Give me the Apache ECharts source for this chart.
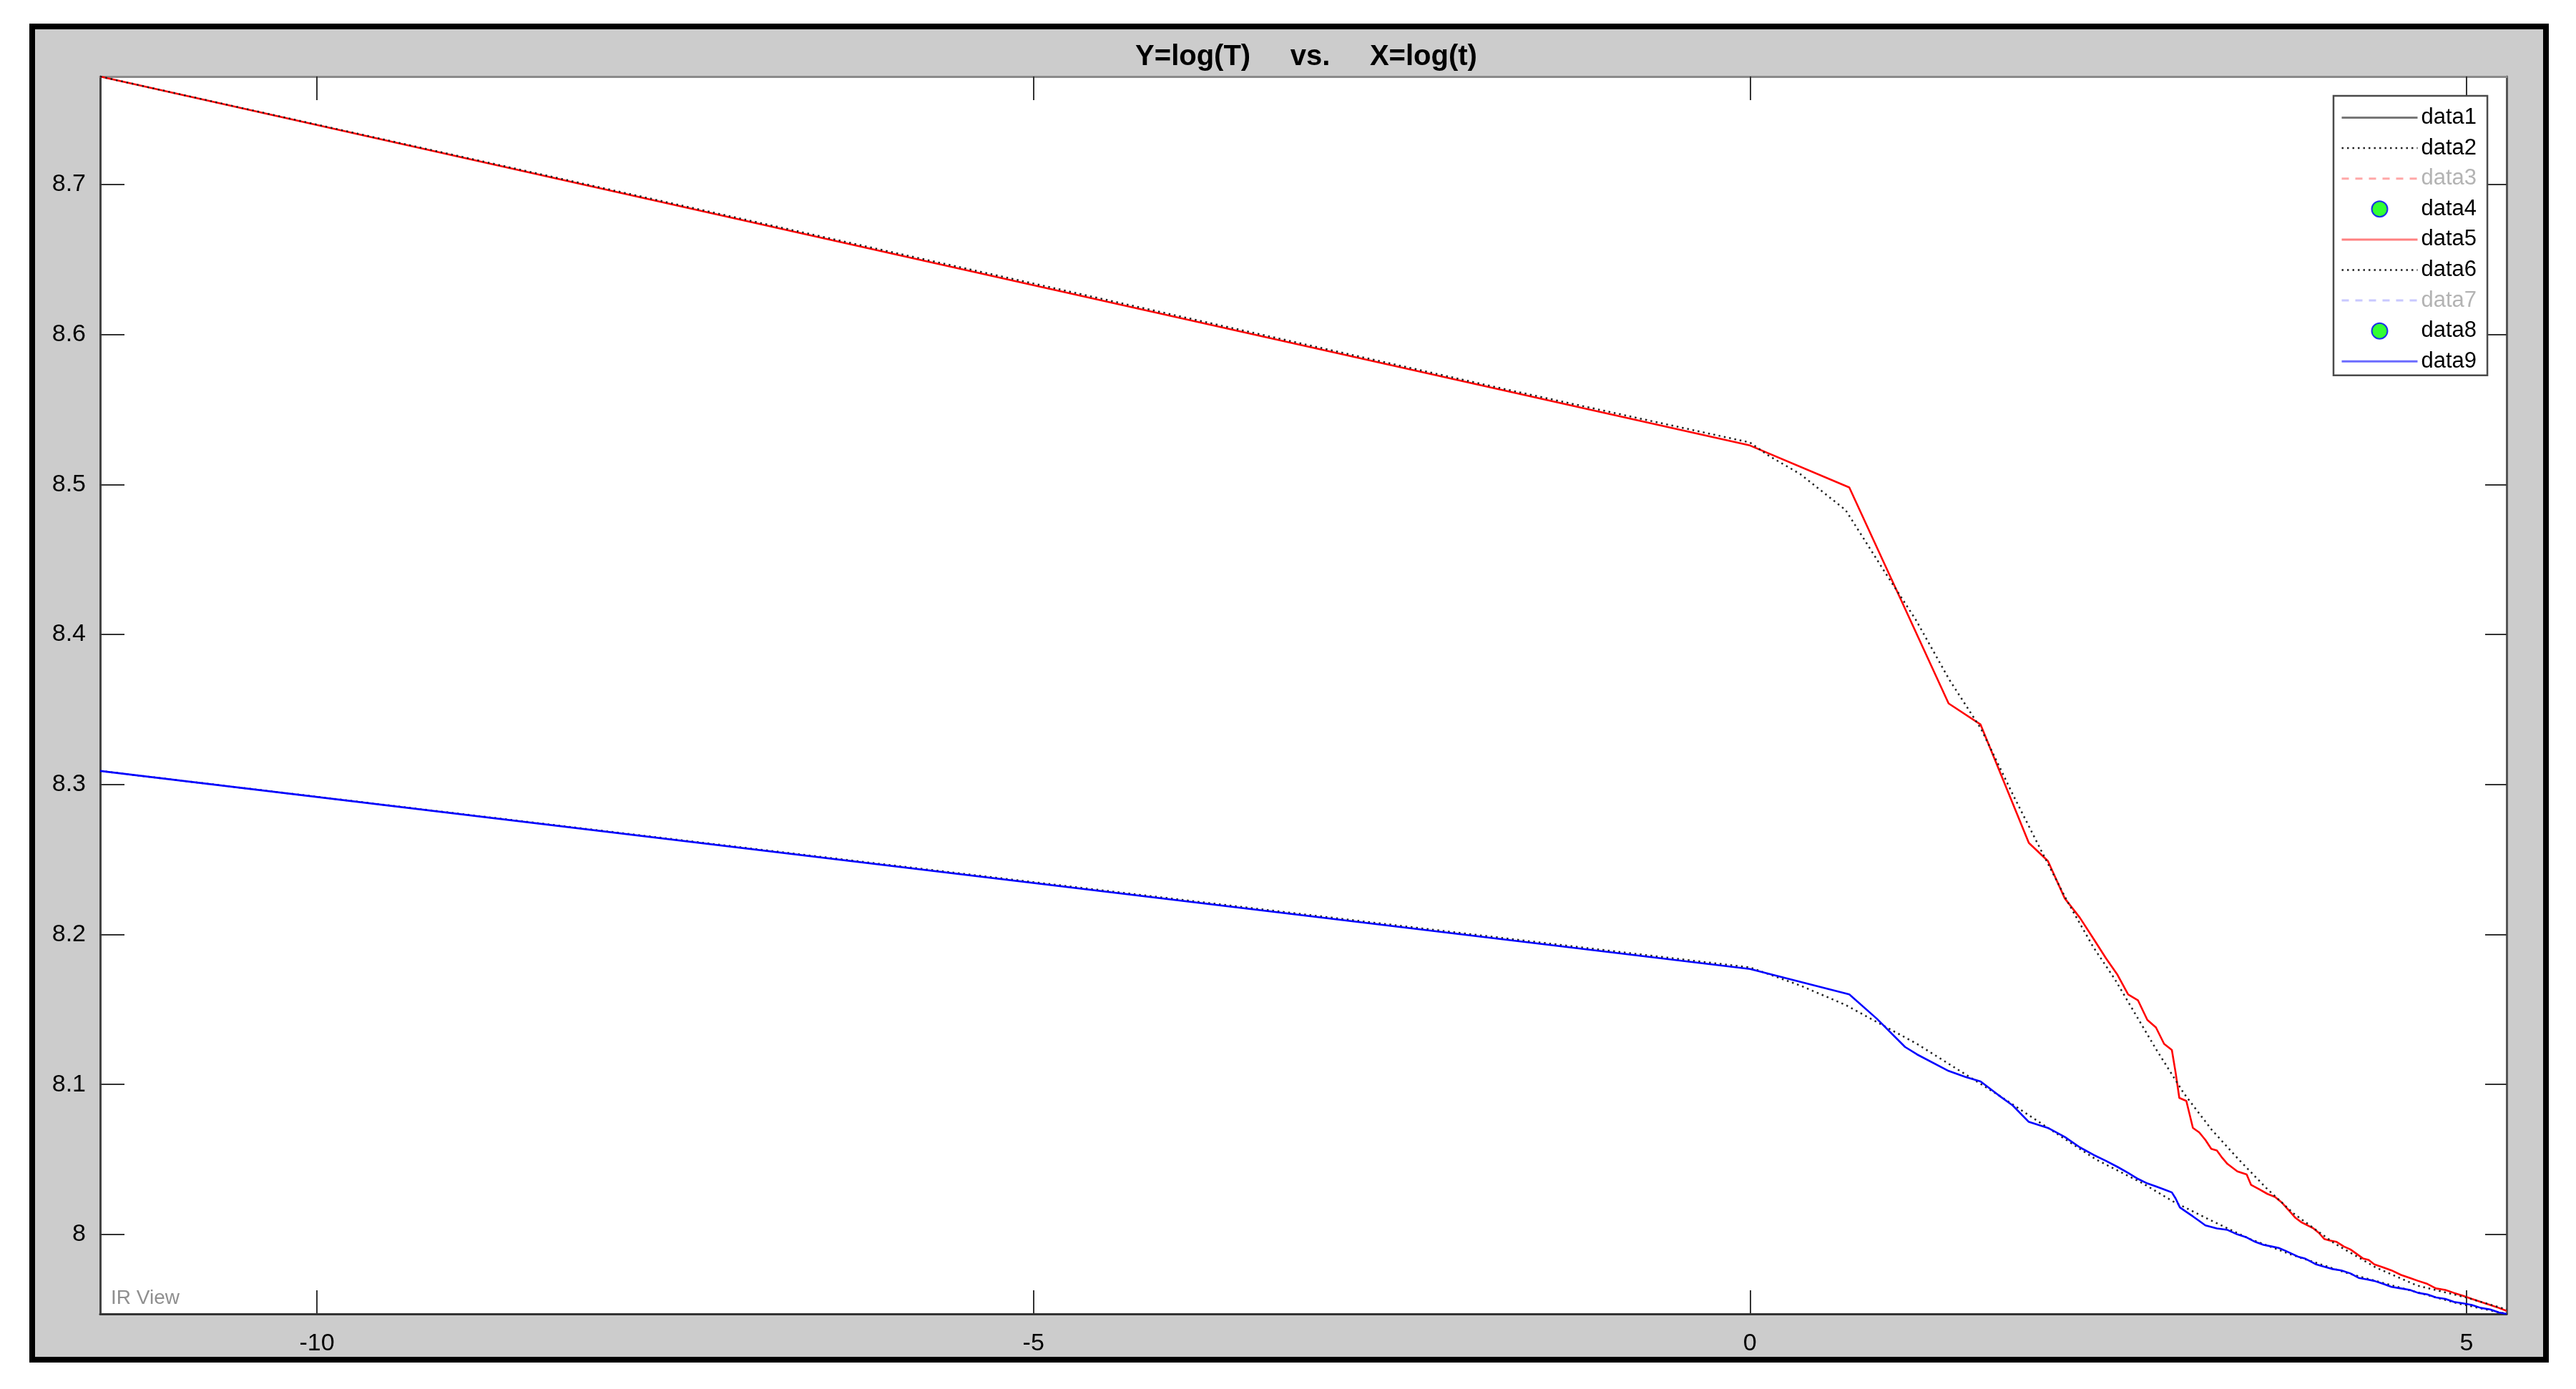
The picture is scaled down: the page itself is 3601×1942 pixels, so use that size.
<!DOCTYPE html>
<html>
<head>
<meta charset="utf-8">
<script src="https://cdn.jsdelivr.net/npm/echarts@6/dist/echarts.min.js"></script>
<style>
  html, body { margin: 0; padding: 0; background: #ffffff; }
  #chart { width: 3601px; height: 1942px; }
</style>
</head>
<body>
<div id="chart"></div>
<script>
// ---- axis ranges and tick labels ----
const X_MIN = -11.513;
const X_MAX = 5.28;
const Y_MIN = 7.947;
const Y_MAX = 8.772;
const xTicks = [-10, -5, 0, 5];
const yTicks = [8, 8.1, 8.2, 8.3, 8.4, 8.5, 8.6, 8.7];

const titleText = 'Y=log(T)     vs.     X=log(t)';
const legendNames = ['data1', 'data2', 'data3', 'data4', 'data5', 'data6', 'data7', 'data8', 'data9'];
const inactiveNames = ['data3', 'data7'];
const markerNames = ['data4', 'data8'];

// ---- series data: [x = log(t), y = log(T)] ----
const data1 = [];
const data3 = [];
const data4 = [];
const data7 = [];
const data8 = [];

// black dotted fit near the blue curve
const data2 = [
  [-11.513, 8.309], [0.0, 8.178], [0.35, 8.166], [0.667, 8.153], [0.916, 8.140],
  [1.166, 8.127], [1.499, 8.107], [1.749, 8.092], [2.048, 8.073], [2.414, 8.050],
  [2.742, 8.034], [2.952, 8.022], [3.181, 8.011], [3.487, 7.997], [3.793, 7.986],
  [4.175, 7.974], [4.557, 7.964], [4.939, 7.954], [5.280, 7.947]
];

// red measured curve
const data5 = [
  [-11.513, 8.772], [0.0, 8.526], [0.693, 8.498], [1.112, 8.411], [1.386, 8.354],
  [1.609, 8.340], [1.946, 8.261], [2.079, 8.249], [2.197, 8.224], [2.303, 8.211],
  [2.398, 8.197], [2.485, 8.184], [2.565, 8.173], [2.639, 8.160], [2.708, 8.156],
  [2.773, 8.143], [2.833, 8.138], [2.890, 8.127], [2.944, 8.123], [2.970, 8.108],
  [2.996, 8.091], [3.045, 8.089], [3.091, 8.071], [3.135, 8.068], [3.178, 8.063],
  [3.219, 8.057], [3.258, 8.056], [3.296, 8.051], [3.332, 8.047], [3.401, 8.042],
  [3.466, 8.040], [3.497, 8.033], [3.555, 8.030], [3.611, 8.027], [3.664, 8.025],
  [3.714, 8.021], [3.761, 8.016], [3.807, 8.011], [3.850, 8.008], [3.892, 8.006],
  [3.932, 8.004], [3.970, 8.001], [4.007, 7.997], [4.043, 7.996], [4.094, 7.995],
  [4.143, 7.992], [4.190, 7.990], [4.234, 7.987], [4.277, 7.984], [4.317, 7.983],
  [4.357, 7.980], [4.419, 7.978], [4.477, 7.976], [4.543, 7.973], [4.605, 7.971],
  [4.663, 7.969], [4.727, 7.967], [4.787, 7.964], [4.852, 7.963], [4.913, 7.961],
  [4.977, 7.959], [5.037, 7.957], [5.100, 7.955], [5.165, 7.953], [5.226, 7.951],
  [5.280, 7.949]
];

// black dotted fit near the red curve
const data6 = [
  [-11.513, 8.772], [-5.0, 8.634], [-1.73, 8.564], [-0.865, 8.546], [0.0, 8.528],
  [0.134, 8.519], [0.350, 8.507], [0.667, 8.483], [0.945, 8.441], [1.156, 8.410],
  [1.390, 8.370], [1.613, 8.337], [1.836, 8.293], [2.037, 8.255], [2.215, 8.222],
  [2.393, 8.192], [2.547, 8.170], [2.664, 8.151], [2.837, 8.123], [3.028, 8.094],
  [3.220, 8.070], [3.410, 8.050], [3.602, 8.031], [3.793, 8.014], [4.079, 7.994],
  [4.366, 7.978], [4.652, 7.966], [4.996, 7.958], [5.280, 7.950]
];

// blue measured curve
const data9 = [
  [-11.513, 8.309], [0.0, 8.177], [0.693, 8.160], [0.883, 8.144], [1.082, 8.125],
  [1.166, 8.120], [1.386, 8.109], [1.504, 8.105], [1.609, 8.102], [1.732, 8.093],
  [1.833, 8.086], [1.946, 8.075], [2.079, 8.071], [2.197, 8.065], [2.303, 8.058],
  [2.398, 8.053], [2.485, 8.049], [2.565, 8.045], [2.639, 8.041], [2.708, 8.037],
  [2.773, 8.034], [2.833, 8.032], [2.890, 8.030], [2.944, 8.028], [2.970, 8.024],
  [3.000, 8.018], [3.045, 8.015], [3.091, 8.012], [3.135, 8.009], [3.178, 8.006],
  [3.258, 8.004], [3.332, 8.003], [3.401, 8.000], [3.466, 7.998], [3.526, 7.995],
  [3.584, 7.993], [3.638, 7.992], [3.689, 7.991], [3.738, 7.989], [3.784, 7.987],
  [3.829, 7.985], [3.871, 7.984], [3.912, 7.982], [3.951, 7.980], [3.989, 7.979],
  [4.060, 7.977], [4.127, 7.976], [4.190, 7.974], [4.248, 7.971], [4.304, 7.970],
  [4.357, 7.969], [4.419, 7.967], [4.477, 7.965], [4.543, 7.964], [4.605, 7.963],
  [4.663, 7.961], [4.727, 7.960], [4.787, 7.958], [4.852, 7.957], [4.913, 7.955],
  [4.977, 7.954], [5.037, 7.953], [5.100, 7.951], [5.165, 7.950], [5.226, 7.948],
  [5.280, 7.947]
];

// ---- chart ----
const FONT = "'Liberation Sans', Arial, Helvetica, sans-serif";
const chart = echarts.init(document.getElementById('chart'), null, { renderer: 'canvas' });

const baseAxisLabel = { fontSize: 34, color: '#000', fontFamily: FONT };

function lineSeries(name, data, color, width, type) {
  return {
    name: name, type: 'line', data: data, symbol: 'none', showSymbol: false,
    smooth: false, clip: true, silent: true,
    lineStyle: { color: color, width: width, type: type || 'solid' },
    itemStyle: { color: color }
  };
}
function markerSeries(name, data) {
  return {
    name: name, type: 'scatter', data: data, symbol: 'circle', symbolSize: 22,
    itemStyle: { color: '#00ff00', borderColor: '#0000ff', borderWidth: 2 }
  };
}

const legendStyles = {
  data1: { lineStyle: { color: '#777777', width: 3 } },
  data2: { lineStyle: { color: '#222222', width: 2.5, type: [2.5, 5] } },
  data3: { lineStyle: { color: '#ffa8a8', width: 3, type: [10, 9] } },
  data5: { lineStyle: { color: '#ff8080', width: 3 } },
  data6: { lineStyle: { color: '#222222', width: 2.5, type: [2.5, 5] } },
  data7: { lineStyle: { color: '#c8c8ff', width: 3, type: [10, 9] } },
  data9: { lineStyle: { color: '#6b6bff', width: 3 } }
};

const legendData = legendNames.map(function (n) {
  const item = { name: n };
  if (legendStyles[n]) Object.assign(item, legendStyles[n]);
  if (markerNames.indexOf(n) < 0) {
    // line entries: hide the center symbol, keep only the line sample
    item.itemStyle = { opacity: 0, borderWidth: 0 };
  }
  if (inactiveNames.indexOf(n) >= 0) item.textStyle = { color: '#b3b3b3' };
  return item;
});

const option = {
  animation: false,
  backgroundColor: '#ffffff',
  title: {
    text: titleText,
    left: 1821,
    textAlign: 'center',
    top: 55,
    textStyle: { fontSize: 40, fontWeight: 'bold', color: '#000', fontFamily: FONT }
  },
  graphic: [
    {
      type: 'rect', z: -10, silent: true,
      shape: { x: 45, y: 37, width: 3514, height: 1864 },
      style: { fill: '#cccccc', stroke: '#000000', lineWidth: 8 }
    },
    {
      type: 'text', z: 10, silent: true, left: 155, top: 1801,
      style: { text: 'IR View', fontSize: 28, fill: '#8f8f8f', fontFamily: FONT }
    }
  ],
  legend: {
    show: true,
    orient: 'vertical',
    left: 3262, top: 134,
    padding: [15, 15, 4, 10],
    itemGap: 11.6,
    itemWidth: 106,
    itemHeight: 22,
    selectedMode: false,
    backgroundColor: '#ffffff',
    borderColor: '#4a4a4a',
    borderWidth: 2.5,
    borderRadius: 0,
    textStyle: { fontSize: 31, color: '#000', fontFamily: FONT },
    data: legendData
  },
  grid: {
    left: 140, top: 107, width: 3364, height: 1730,
    show: true, backgroundColor: '#ffffff', borderWidth: 0, containLabel: false
  },
  xAxis: [
    {
      type: 'value', position: 'bottom', min: X_MIN, max: X_MAX,
      axisLine: { show: true, onZero: false, lineStyle: { color: '#333333', width: 3 } },
      axisTick: { show: true, inside: true, length: 33, customValues: xTicks, lineStyle: { color: '#333333', width: 2 } },
      axisLabel: Object.assign({ show: true, margin: 25, customValues: xTicks,
        formatter: function (v) { return String(v); } }, baseAxisLabel),
      splitLine: { show: false }
    },
    {
      type: 'value', position: 'top', min: X_MIN, max: X_MAX,
      axisLine: { show: true, onZero: false, lineStyle: { color: '#8a8a8a', width: 3 } },
      axisTick: { show: true, inside: true, length: 33, customValues: xTicks, lineStyle: { color: '#333333', width: 2 } },
      axisLabel: { show: false },
      splitLine: { show: false }
    }
  ],
  yAxis: [
    {
      type: 'value', position: 'left', min: Y_MIN, max: Y_MAX,
      axisLine: { show: true, onZero: false, lineStyle: { color: '#444444', width: 3 } },
      axisTick: { show: true, inside: true, length: 34, customValues: yTicks, lineStyle: { color: '#333333', width: 2 } },
      axisLabel: Object.assign({ show: true, margin: 20, customValues: yTicks,
        formatter: function (v) { return String(+(+v).toFixed(1)); } }, baseAxisLabel),
      splitLine: { show: false }
    },
    {
      type: 'value', position: 'right', min: Y_MIN, max: Y_MAX,
      axisLine: { show: true, onZero: false, lineStyle: { color: '#555555', width: 3 } },
      axisTick: { show: true, inside: true, length: 30, customValues: yTicks, lineStyle: { color: '#333333', width: 2 } },
      axisLabel: { show: false },
      splitLine: { show: false }
    }
  ],
  series: [
    lineSeries('data1', data1, '#777777', 2.5),
    lineSeries('data2', data2, '#222222', 2.5, [2.5, 5]),
    lineSeries('data3', data3, '#ffb8b8', 2.5, [10, 9]),
    markerSeries('data4', data4),
    lineSeries('data5', data5, '#ff0000', 2.6),
    lineSeries('data6', data6, '#222222', 2.5, [2.5, 5]),
    lineSeries('data7', data7, '#d6d6ff', 2.5, [10, 9]),
    markerSeries('data8', data8),
    lineSeries('data9', data9, '#0000ff', 2.6)
  ]
};

chart.setOption(option);
</script>
</body>
</html>
